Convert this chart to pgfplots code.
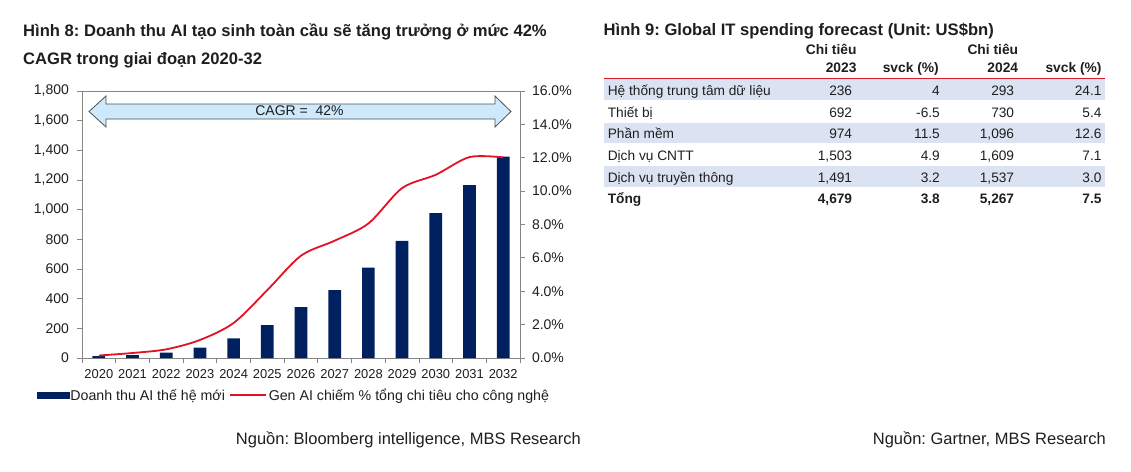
\documentclass[border=0pt]{standalone}
\usepackage{fontspec}
\setmainfont{Liberation Sans}
\usepackage{pgfplots}
\pgfplotsset{compat=1.18}
\definecolor{navy}{RGB}{0,32,96}
\definecolor{linered}{RGB}{226,18,34}
\definecolor{arrowfill}{RGB}{206,232,252}
\definecolor{arrowline}{RGB}{80,80,80}
\definecolor{axgray}{RGB}{134,134,134}
\definecolor{rowblue}{RGB}{219,227,243}
\definecolor{tablered}{RGB}{214,30,40}
\definecolor{txt}{RGB}{30,30,30}
\newcommand{\fs}[1]{\fontsize{#1}{#1}\selectfont}
\frenchspacing

\begin{document}
\begin{tikzpicture}
\path[use as bounding box] (0pt,0pt) rectangle (1131pt,-471pt);

% ---------- left figure titles
\node[anchor=base west, inner sep=0pt, font=\bfseries\fs{16.6}, text=txt] at (23pt,-36pt) {Hình 8: Doanh thu AI tạo sinh toàn cầu sẽ tăng trưởng ở mức 42\%};
\node[anchor=base west, inner sep=0pt, font=\bfseries\fs{16.6}, text=txt] at (23pt,-64pt) {CAGR trong giai đoạn 2020-32};

% ---------- bars (left axis)
\begin{axis}[
  at={(82pt,-358pt)}, anchor=south west,
  scale only axis, width=438pt, height=267pt,
  xmin=-0.5, xmax=12.5, ymin=0, ymax=1800,
  xtick={-0.5,0.5,...,12.5},
  x tick label as interval,
  xticklabels={2020,2021,2022,2023,2024,2025,2026,2027,2028,2029,2030,2031,2032},
  ytick={0,200,...,1800},
  xtick pos=bottom, ytick pos=left,
  tick align=outside,
  major tick length=4.5pt,
  every tick/.append style={axgray, line width=0.8pt},
  axis line style={axgray, line width=0.8pt},
  /pgf/number format/assume math mode=true,
  /pgf/number format/1000 sep={,},
  x tick label style={font=\fs{12.9}, text=txt, yshift=-3pt},
  y tick label style={font=\fs{14}, text=txt, xshift=-5pt},
]
\addplot[ybar, bar width=12.7pt, fill=navy, draw=none] coordinates {
 (0,12) (1,20) (2,36) (3,70) (4,132) (5,222) (6,343) (7,458) (8,610) (9,790) (10,976) (11,1165) (12,1358)};
\end{axis}

% ---------- line (right axis)
\begin{axis}[
  at={(82pt,-358pt)}, anchor=south west,
  scale only axis, width=438pt, height=267pt,
  xmin=-0.5, xmax=12.5, ymin=0, ymax=16,
  axis x line=none, axis y line*=right,
  ytick={0,2,...,16},
  yticklabel={\pgfmathprintnumber[fixed,fixed zerofill,precision=1]{\tick}\%},
  tick align=outside, major tick length=4.5pt,
  every tick/.append style={axgray, line width=0.8pt},
  axis line style={axgray, line width=0.8pt, -},
  /pgf/number format/assume math mode=true,
  y tick label style={font=\fs{14}, text=txt, xshift=4pt},
  legend style={at={(-0.1034,-0.1400)}, anchor=west, draw=none, fill=none,
    font=\fs{14.2}, text=txt, legend columns=2, inner sep=0pt,
    /tikz/every even column/.style={column sep=3pt},
    nodes={inner sep=1.5pt}},
  legend cell align=left,
]
\addlegendimage{legend image code/.code={\fill[navy] (0pt,-3pt) rectangle (31.6pt,3pt);}}
\addlegendentry{Doanh thu AI thế hệ mới}
\addplot[linered, line width=1.8pt, smooth,
  legend image code/.code={\draw[linered,line width=1.8pt] (0pt,0pt) -- (36pt,0pt);}] coordinates {
 (0,0.15) (1,0.3) (2,0.52) (3,1.08) (4,2.1) (5,4.07) (6,6.13) (7,7.03) (8,8.06) (9,10.18) (10,10.98) (11,12.04) (12,12.02)};
\addlegendentry{Gen AI chiếm \% tổng chi tiêu cho công nghệ}
\end{axis}

% ---------- CAGR arrow
\draw[draw=arrowline, fill=arrowfill, line width=0.8pt, line join=miter]
  (89pt,-111.5pt) -- (106pt,-96pt) -- (106pt,-104pt) -- (495pt,-104pt) -- (495pt,-96pt)
  -- (511pt,-111.5pt) -- (495pt,-127pt) -- (495pt,-119pt) -- (106pt,-119pt) -- (106pt,-127pt) -- cycle;
\node[font=\fs{14}, text=txt, inner sep=0pt] at (299.5pt,-111pt) {CAGR =\ \ 42\%};

\node[anchor=base east, inner sep=0pt, font=\fs{16.5}, text=txt] at (581pt,-444pt) {Nguồn: Bloomberg intelligence, MBS Research};

% ---------- right table
\node[anchor=base west, inner sep=0pt, font=\bfseries\fs{16.6}, text=txt] at (603.5pt,-35pt) {Hình 9: Global IT spending forecast (Unit: US\$bn)};

\fill[rowblue] (603.5pt,-79.3pt) rectangle (1105pt,-100pt);
\fill[rowblue] (603.5pt,-122.7pt) rectangle (1105pt,-143.3pt);
\fill[rowblue] (603.5pt,-166pt) rectangle (1105pt,-186.7pt);
\draw[tablered, line width=1.2pt] (603.5pt,-78.3pt) -- (1105pt,-78.3pt);

\begin{scope}[every node/.style={inner sep=0pt, text=txt, font=\bfseries\fs{13.8}}]
\node[anchor=base east] at (856.7pt,-54pt) {Chi tiêu};
\node[anchor=base east] at (856.7pt,-72.7pt) {2023};
\node[anchor=base east] at (939pt,-72.7pt) {svck (\%)};
\node[anchor=base east] at (1018.3pt,-54pt) {Chi tiêu};
\node[anchor=base east] at (1018.3pt,-72.7pt) {2024};
\node[anchor=base east] at (1101.7pt,-72.7pt) {svck (\%)};
\end{scope}

\begin{scope}[every node/.style={inner sep=0pt, text=txt, font=\fs{13.7}}]
\node[anchor=base west] at (607.6pt,-95pt) {Hệ thống trung tâm dữ liệu};
\node[anchor=base east] at (852.3pt,-95pt) {236};
\node[anchor=base east] at (940pt,-95pt) {4};
\node[anchor=base east] at (1014.3pt,-95pt) {293};
\node[anchor=base east] at (1101.7pt,-95pt) {24.1};

\node[anchor=base west] at (607.6pt,-117pt) {Thiết bị};
\node[anchor=base east] at (852.3pt,-117pt) {692};
\node[anchor=base east] at (940pt,-117pt) {-6.5};
\node[anchor=base east] at (1014.3pt,-117pt) {730};
\node[anchor=base east] at (1101.7pt,-117pt) {5.4};

\node[anchor=base west] at (607.6pt,-138.3pt) {Phần mềm};
\node[anchor=base east] at (852.3pt,-138.3pt) {974};
\node[anchor=base east] at (940pt,-138.3pt) {11.5};
\node[anchor=base east] at (1014.3pt,-138.3pt) {1,096};
\node[anchor=base east] at (1101.7pt,-138.3pt) {12.6};

\node[anchor=base west] at (607.6pt,-160.3pt) {Dịch vụ CNTT};
\node[anchor=base east] at (852.3pt,-160.3pt) {1,503};
\node[anchor=base east] at (940pt,-160.3pt) {4.9};
\node[anchor=base east] at (1014.3pt,-160.3pt) {1,609};
\node[anchor=base east] at (1101.7pt,-160.3pt) {7.1};

\node[anchor=base west] at (607.6pt,-182pt) {Dịch vụ truyền thông};
\node[anchor=base east] at (852.3pt,-182pt) {1,491};
\node[anchor=base east] at (940pt,-182pt) {3.2};
\node[anchor=base east] at (1014.3pt,-182pt) {1,537};
\node[anchor=base east] at (1101.7pt,-182pt) {3.0};
\end{scope}

\begin{scope}[every node/.style={inner sep=0pt, text=txt, font=\bfseries\fs{13.7}}]
\node[anchor=base west] at (607.6pt,-203.7pt) {Tổng};
\node[anchor=base east] at (852.3pt,-203.7pt) {4,679};
\node[anchor=base east] at (940pt,-203.7pt) {3.8};
\node[anchor=base east] at (1014.3pt,-203.7pt) {5,267};
\node[anchor=base east] at (1101.7pt,-203.7pt) {7.5};
\end{scope}

\node[anchor=base east, inner sep=0pt, font=\fs{16.5}, text=txt] at (1106pt,-444.5pt) {Nguồn: Gartner, MBS Research};
\end{tikzpicture}
\end{document}
